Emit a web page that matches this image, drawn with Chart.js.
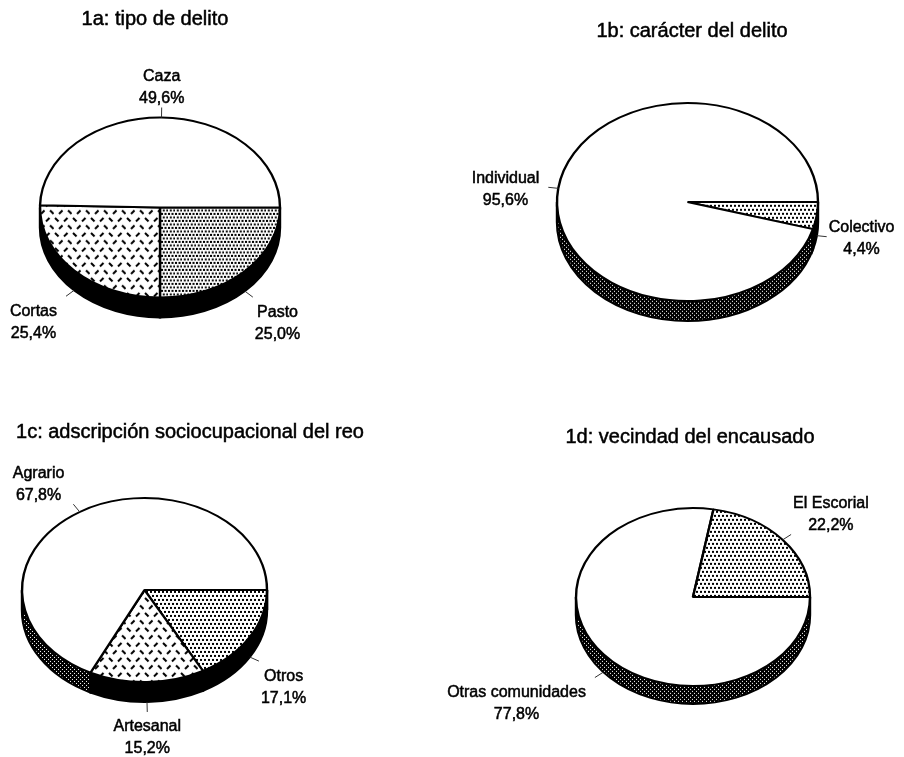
<!DOCTYPE html>
<html>
<head>
<meta charset="utf-8">
<script src="https://cdn.jsdelivr.net/npm/chart.js@4.4.1/dist/chart.umd.min.js"></script>
<style>
  html, body { margin: 0; padding: 0; background: #fff; }
  #wrap { position: relative; width: 904px; height: 757px; overflow: hidden; }
  #wrap canvas { position: absolute; left: 0; top: 0; }
</style>
</head>
<body>
<div id="wrap">
  <canvas id="c1a" width="904" height="757"></canvas>
  <canvas id="c1b" width="904" height="757"></canvas>
  <canvas id="c1c" width="904" height="757"></canvas>
  <canvas id="c1d" width="904" height="757"></canvas>
</div>
<script>
// Data (percentages), in drawing order starting at 3 o'clock, clockwise
const tipoLabels = ['Pasto', 'Cortas', 'Caza'];
const tipoValues = [25.0, 25.4, 49.6];

const caracterLabels = ['Colectivo', 'Individual'];
const caracterValues = [4.4, 95.6];

const ocupacionLabels = ['Otros', 'Artesanal', 'Agrario'];
const ocupacionValues = [17.1, 15.2, 67.8];

const vecindadLabels = ['Otras comunidades', 'El Escorial'];
const vecindadValues = [77.8, 22.2];

// Layout of the four pies
const panels = [
    { id: 'c1a', title: '1a: tipo de delito', titleX: 155, titleY: 19,
      cx: 160, cy: 207.5, rx: 120, ry: 90, depth: 20,
      labels: tipoLabels, values: tipoValues, fills: ['dotsDense', 'dashes', 'plain'] },
    { id: 'c1b', title: '1b: carácter del delito', titleX: 692, titleY: 31,
      cx: 687.5, cy: 202, rx: 130.5, ry: 99, depth: 20,
      labels: caracterLabels, values: caracterValues, fills: ['dots', 'plain'] },
    { id: 'c1c', title: '1c: adscripción sociocupacional del reo', titleX: 190, titleY: 432,
      cx: 144.5, cy: 590, rx: 122.5, ry: 92, depth: 20,
      labels: ocupacionLabels, values: ocupacionValues, fills: ['dots', 'dashes', 'plain'] },
    { id: 'c1d', title: '1d: vecindad del encausado', titleX: 690, titleY: 437,
      cx: 693, cy: 597, rx: 117, ry: 89, depth: 18,
      labels: vecindadLabels, values: vecindadValues, fills: ['plain', 'dots'] }
];

const FONT = '"Liberation Sans", Arial, sans-serif';

function fmt(v) {
    return v.toFixed(1).replace('.', ',') + '%';
}

// Black & white fill patterns (stretched back vertically to undo the ellipse squash)
function makePattern(kind, k) {
    const c = document.createElement('canvas');
    const g = c.getContext('2d');
    if (kind === 'plain') return '#ffffff';
    if (kind === 'dots') {
        c.width = 8; c.height = 8;
        g.fillStyle = '#fff'; g.fillRect(0, 0, 8, 8);
        g.fillStyle = '#000';
        [[0, 0], [4, 0], [2, 4], [6, 4]].forEach(([x, y]) => g.fillRect(x, y, 2, 2));
    } else if (kind === 'dotsDense') {
        c.width = 7; c.height = 7;
        g.fillStyle = '#fff'; g.fillRect(0, 0, 7, 7);
        g.fillStyle = '#000';
        [[0, 0], [3.5, 0], [1.75, 3.5], [5.25, 3.5]].forEach(([x, y]) => g.fillRect(x, y, 2, 2));
    } else if (kind === 'dashes') {
        c.width = 18; c.height = 15;
        g.fillStyle = '#fff'; g.fillRect(0, 0, 18, 15);
        g.strokeStyle = '#000'; g.lineWidth = 2;
        g.beginPath();
        g.moveTo(1, 1); g.lineTo(4.5, 4.5);
        g.moveTo(10, 4.5); g.lineTo(13.5, 1);
        g.moveTo(5, 12); g.lineTo(8.5, 8.5);
        g.moveTo(14, 8.5); g.lineTo(17.5, 12);
        g.stroke();
    } else if (kind === 'wallGray') {
        c.width = 4; c.height = 4;
        g.fillStyle = '#000'; g.fillRect(0, 0, 4, 4);
        g.fillStyle = '#fff';
        [[0, 0], [2, 2]].forEach(([x, y]) => g.fillRect(x, y, 1, 1));
    }
    const pat = g.createPattern(c, 'repeat');
    pat.setTransform(new DOMMatrix([1, 0, 0, 1 / k, 0, 0]));
    return pat;
}

// Slightly heavier text, like the scanned original
function boldText(ctx, t, x, y) {
    ctx.fillText(t, x, y);
    ctx.strokeText(t, x, y);
}

function makePie3d(p) {
    const k = p.ry / p.rx;
    return {
        id: 'pie3d',
        beforeDatasetsDraw(chart) {
            const ctx = chart.ctx;
            const meta = chart.getDatasetMeta(0);
            const a = meta.data[0];
            const x = a.x, y = a.y, r = a.outerRadius;
            ctx.save();
            ctx.translate(x, y);
            ctx.scale(1, k);
            ctx.translate(-x, -y);
            // side wall of the front half
            const D = p.depth / k;
            meta.data.forEach((arc, i) => {
                for (let n = -1; n <= 2; n++) {
                    const a0 = Math.max(arc.startAngle, 2 * Math.PI * n);
                    const a1 = Math.min(arc.endAngle, 2 * Math.PI * n + Math.PI);
                    if (a1 <= a0) continue;
                    ctx.beginPath();
                    ctx.arc(x, y, r, a0, a1);
                    ctx.arc(x, y + D, r, a1, a0, true);
                    ctx.closePath();
                    ctx.fillStyle = p.fills[i] === 'plain' ? makePattern('wallGray', k) : '#000';
                    ctx.fill();
                    ctx.lineWidth = 2.4;
                    ctx.strokeStyle = '#000';
                    ctx.stroke();
                }
            });
        },
        afterDatasetsDraw(chart) {
            chart.ctx.restore();
        },
        afterDraw(chart) {
            const ctx = chart.ctx;
            const meta = chart.getDatasetMeta(0);
            ctx.save();
            ctx.fillStyle = '#000';
            ctx.strokeStyle = '#000';
            ctx.lineWidth = 0.5;
            ctx.textAlign = 'center';
            ctx.textBaseline = 'middle';
            ctx.font = '20px ' + FONT;
            boldText(ctx, p.title, p.titleX, p.titleY);

            ctx.font = '16px ' + FONT;
            meta.data.forEach((arc, i) => {
                const mid = (arc.startAngle + arc.endAngle) / 2;
                const c = Math.cos(mid), s = Math.sin(mid);
                const ax = arc.x + arc.outerRadius * c;
                const ay = arc.y + arc.outerRadius * k * s + (s > 0 ? p.depth : 0);
                const len = Math.hypot(c, s * k);
                const ux = c / len, uy = s * k / len;
                const ex = ax + ux * 10, ey = ay + uy * 10;

                ctx.strokeStyle = '#333';
                ctx.lineWidth = 1;
                ctx.beginPath();
                ctx.moveTo(ax, ay);
                ctx.lineTo(ex, ey);
                ctx.stroke();

                const lines = [p.labels[i], fmt(p.values[i])];
                const w = Math.max(...lines.map(t => ctx.measureText(t).width));
                let bx = ex;
                if (ux > 0.2) bx = ex + 2 + w / 2;
                else if (ux < -0.2) bx = ex - 9 - w / 2;
                let y1 = ey + 2 - 11;
                if (uy > 0.3) y1 = ey + 15;
                else if (uy < -0.3) y1 = ey - 9 - 22;
                ctx.strokeStyle = '#000';
                ctx.lineWidth = 0.5;
                lines.forEach((t, j) => boldText(ctx, t, bx, y1 + j * 22));
            });
            ctx.restore();
        }
    };
}

const W = 904, H = 757;
panels.forEach(p => {
    const k = p.ry / p.rx;
    const dx = 2 * p.cx - W;
    const dy = 2 * p.cy - H;
    new Chart(document.getElementById(p.id), {
        type: 'pie',
        data: {
            labels: p.labels,
            datasets: [{
                data: p.values,
                backgroundColor: p.fills.map(f => makePattern(f, k)),
                borderColor: '#000',
                borderWidth: 2.4,
                clip: false
            }]
        },
        options: {
            responsive: false,
            animation: false,
            events: [],
            rotation: 90,
            radius: p.rx,
            layout: {
                padding: {
                    left: Math.max(dx, 0), right: Math.max(-dx, 0),
                    top: Math.max(dy, 0), bottom: Math.max(-dy, 0)
                }
            },
            plugins: {
                legend: { display: false },
                tooltip: { enabled: false },
                title: { display: false }
            }
        },
        plugins: [makePie3d(p)]
    });
});
</script>
</body>
</html>
